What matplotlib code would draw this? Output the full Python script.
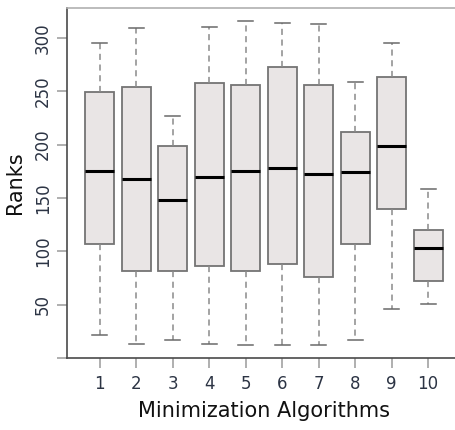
import matplotlib

matplotlib.use("Agg")
import matplotlib.pyplot as plt

# rank distribution per minimization algorithm
algorithms = ["1", "2", "3", "4", "5", "6", "7", "8", "9", "10"]
whisker_low = [22, 13, 17, 13, 12, 12, 12, 17, 46, 51]
q1 = [107, 82, 82, 86, 82, 88, 76, 107, 140, 72]
medians = [175, 168, 148, 170, 175, 178, 172, 174, 199, 103]
q3 = [249, 254, 199, 258, 256, 273, 256, 212, 263, 120]
whisker_high = [295, 309, 227, 310, 316, 314, 313, 259, 295, 158]

stats = [
    {"label": name, "whislo": lo, "q1": a, "med": m, "q3": b, "whishi": hi}
    for name, lo, a, m, b, hi in zip(
        algorithms, whisker_low, q1, medians, q3, whisker_high
    )
]

fig = plt.figure(figsize=(4.56, 4.30), dpi=100)
ax = fig.add_axes([67 / 456, 72 / 430, 394 / 456, 350 / 430])

positions = list(range(1, len(algorithms) + 1))
ax.bxp(
    stats,
    positions=positions,
    widths=0.8,
    capwidths=0.42,
    patch_artist=True,
    showfliers=False,
    boxprops=dict(facecolor="#E9E5E5", edgecolor="#747474", linewidth=1.3),
    medianprops=dict(color="black", linewidth=2.2, solid_capstyle="butt"),
    whiskerprops=dict(color="#8a8a8a", linewidth=1.1, linestyle=(0, (4, 3))),
    capprops=dict(color="#6a6a6a", linewidth=1.1),
)

ax.set_xlim(0.1, 10.9)
ax.set_ylim(0, 328)

ax.set_yticks([0, 50, 100, 150, 200, 250, 300])
ax.set_yticklabels(["", "50", "100", "150", "200", "250", "300"])
ax.set_xticks(positions)
ax.set_xticklabels(algorithms)

ax.tick_params(axis="both", colors="#9a9a9a", length=7, width=1.1,
               labelcolor="#2c3444", labelsize=12)
ax.tick_params(axis="y", labelrotation=90, pad=4)
ax.tick_params(axis="x", pad=5)
for lbl in ax.get_yticklabels():
    lbl.set_va("center")

for side in ("top", "right"):
    ax.spines[side].set_color("#b0b0b0")
    ax.spines[side].set_linewidth(1.2)
for side in ("left", "bottom"):
    ax.spines[side].set_color("#4a4a4a")
    ax.spines[side].set_linewidth(1.2)

ax.set_xlabel("Minimization Algorithms", fontsize=15, color="#111111", labelpad=6)
ax.set_ylabel("Ranks", fontsize=15, color="#111111", labelpad=6)

fig.savefig("out.png", dpi=100)
